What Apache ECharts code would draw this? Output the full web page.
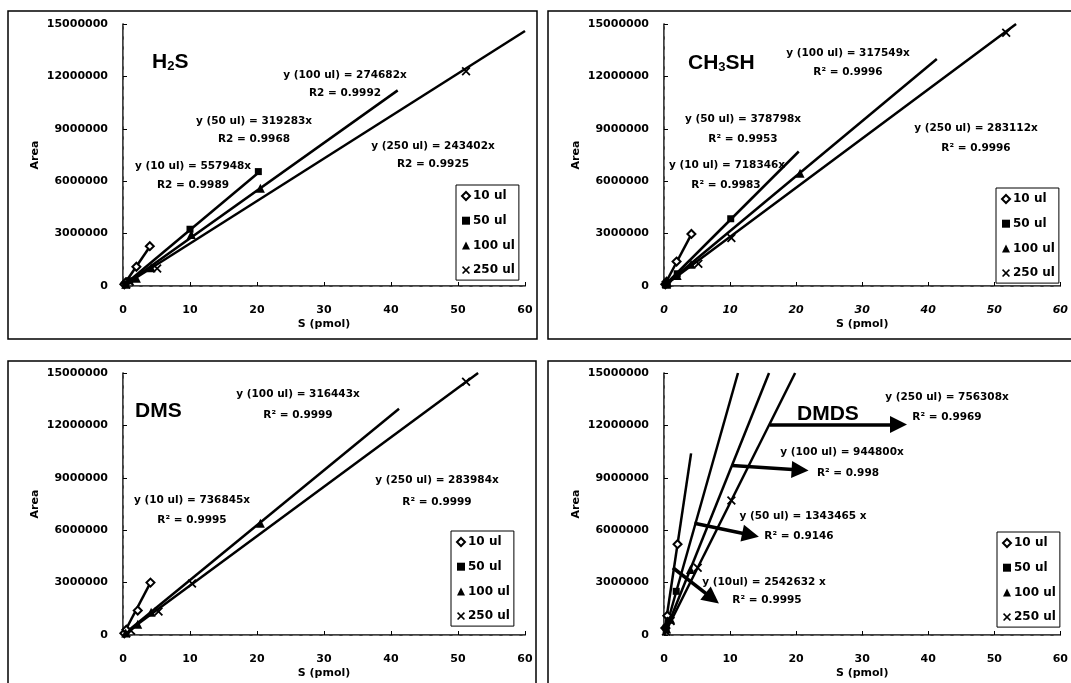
<!DOCTYPE html>
<html>
<head>
<meta charset="utf-8">
<script src="https://cdn.jsdelivr.net/npm/echarts@6/dist/echarts.min.js"></script>
<style>
html,body{margin:0;padding:0;background:#fff;}
#chart{width:1071px;height:683px;}
</style>
</head>
<body>
<div id="chart"></div>
<script>
// ---------------- DATA ----------------
const legendNames = ['10 ul', '50 ul', '100 ul', '250 ul'];
const xTicks = [0, 10, 20, 30, 40, 50, 60];
const yTicks = [0, 3000000, 6000000, 9000000, 12000000, 15000000];
const panelTitles = ['H2S', 'CH3SH', 'DMS', 'DMDS'];

// H2S measured points
const h2s10 = [[0.2, 100000], [0.4, 200000], [2.0, 1100000], [4.0, 2280000]];
const h2s50 = [[0.4, 100000], [1.0, 300000], [10.0, 3250000], [20.2, 6550000]];
const h2s100 = [[0.4, 100000], [2.0, 450000], [4.2, 1050000], [10.2, 2950000], [20.5, 5600000]];
const h2s250 = [[0.5, 80000], [1.0, 250000], [5.1, 1000000], [51.2, 12300000]];
// H2S trend lines (end points)
const h2sFit10 = [[0, 0], [4.1, 2300000]];
const h2sFit50 = [[0, 0], [20.2, 6480000]];
const h2sFit100 = [[0, 0], [41.0, 11200000]];
const h2sFit250 = [[0, 0], [60.0, 14600000]];

// CH3SH
const ch10 = [[0.2, 100000], [0.4, 250000], [1.9, 1400000], [4.15, 2980000]];
const ch50 = [[0.2, 80000], [0.5, 200000], [2.0, 700000], [10.1, 3850000]];
const ch100 = [[0.4, 100000], [2.0, 600000], [4.1, 1250000], [20.6, 6450000]];
const ch250 = [[0.5, 150000], [5.2, 1270000], [10.2, 2750000], [51.8, 14500000]];
const chFit10 = [[0, 0], [4.2, 3000000]];
const chFit50 = [[0, 0], [20.4, 7700000]];
const chFit100 = [[0, 0], [41.3, 13000000]];
const chFit250 = [[0, 0], [53.3, 15000000]];

// DMS
const dms10 = [[0.2, 100000], [0.5, 300000], [2.2, 1400000], [4.1, 3000000]];
const dms50 = [];
const dms100 = [[0.4, 120000], [2.2, 620000], [4.2, 1300000], [20.5, 6400000]];
const dms250 = [[0.5, 100000], [1.2, 250000], [5.3, 1350000], [10.3, 2950000], [51.2, 14500000]];
const dmsFit10 = [[0, 0], [4.1, 3000000]];
const dmsFit50 = [];
const dmsFit100 = [[0, 0], [41.2, 12950000]];
const dmsFit250 = [[0, 0], [53.0, 15000000]];

// DMDS
const dmds10 = [[0.2, 400000], [0.5, 1100000], [2.05, 5200000]];
const dmds50 = [[0.3, 400000], [1.85, 2500000]];
const dmds100 = [[0.4, 350000], [1.0, 900000], [4.0, 3750000]];
const dmds250 = [[0.3, 200000], [1.0, 800000], [5.1, 3850000], [10.2, 7700000]];
const dmdsFit10 = [[0, 0], [4.1, 10400000]];
const dmdsFit50 = [[0, 0], [11.2, 15000000]];
const dmdsFit100 = [[0, 0], [15.9, 15000000]];
const dmdsFit250 = [[0, 0], [19.85, 15000000]];
// DMDS annotation arrows: [start, tip]
const dmdsArrows = [
  [[16.0, 12050000], [35.5, 12050000]],
  [[10.3, 9700000], [20.6, 9450000]],
  [[4.6, 6400000], [13.1, 5730000]],
  [[1.35, 3850000], [7.3, 2100000]]
];

// equation labels
const h2sEq = ['y (100 ul) = 274682x', 'R2 = 0.9992', 'y (50 ul) = 319283x', 'R2 = 0.9968',
  'y (10 ul) = 557948x', 'R2 = 0.9989', 'y (250 ul) = 243402x', 'R2 = 0.9925'];
const chEq = ['y (100 ul) = 317549x', 'R\u00b2 = 0.9996', 'y (50 ul) = 378798x', 'R\u00b2 = 0.9953',
  'y (10 ul) = 718346x', 'R\u00b2 = 0.9983', 'y (250 ul) = 283112x', 'R\u00b2 = 0.9996'];
const dmsEq = ['y (100 ul) = 316443x', 'R\u00b2 = 0.9999', 'y (10 ul) = 736845x', 'R\u00b2 = 0.9995',
  'y (250 ul) = 283984x', 'R\u00b2 = 0.9999'];
const dmdsEq = ['y (250 ul) = 756308x', 'R\u00b2 = 0.9969', 'y (100 ul) = 944800x', 'R\u00b2 = 0.998',
  'y (50 ul) = 1343465 x', 'R\u00b2 = 0.9146', 'y (10ul) = 2542632 x', 'R\u00b2 = 0.9995'];

// ---------------- LAYOUT / STYLE ----------------
const FONT = 'DejaVu Sans';
const TFONT = 'Liberation Sans';
const grids = [
  {left: 123, top: 24, width: 402, height: 262},
  {left: 664, top: 24, width: 402, height: 262},
  {left: 123, top: 373, width: 402, height: 262},
  {left: 664, top: 373, width: 402, height: 262}
];
const frames = [[8, 11, 529, 328], [548, 11, 530, 328], [8, 361, 528, 330], [548, 361, 530, 330]];
const eqPos = [
  [[345, 75], [345, 93], [254, 121], [254, 139], [193, 166], [193, 185], [433, 146], [433, 164]],
  [[848, 53], [848, 72], [743, 119], [743, 139], [727, 165], [726, 185], [976, 128], [976, 148]],
  [[298, 394], [298, 415], [192, 500], [192, 520], [437, 480], [437, 502]],
  [[947, 397], [947, 417], [842, 452], [848, 473], [803, 516], [799, 536], [764, 582], [767, 600]]
];
const eqTexts = [h2sEq, chEq, dmsEq, dmdsEq];
const titlePos = [[152, 50], [688, 51], [135, 399], [797, 402]];
const titleRich = [
  '{b|H}{s|2}{b|S}', '{b|CH}{s|3}{b|SH}', '{b|DMS}', '{b|DMDS}'
];
const legendPos = [[456, 185], [996, 188], [451, 531], [997, 532]];

const pointSets = [
  [h2s10, h2s50, h2s100, h2s250],
  [ch10, ch50, ch100, ch250],
  [dms10, dms50, dms100, dms250],
  [dmds10, dmds50, dmds100, dmds250]
];
const fitSets = [
  [h2sFit10, h2sFit50, h2sFit100, h2sFit250],
  [chFit10, chFit50, chFit100, chFit250],
  [dmsFit10, dmsFit50, dmsFit100, dmsFit250],
  [dmdsFit10, dmdsFit50, dmdsFit100, dmdsFit250]
];
const XPATH = 'path://M0,1.4 L1.4,0 L5,3.6 L8.6,0 L10,1.4 L6.4,5 L10,8.6 L8.6,10 L5,6.4 L1.4,10 L0,8.6 L3.6,5 Z';
const symbols = ['emptyDiamond', 'rect', 'triangle', XPATH];
const symSizes = [8, 7, 9, 9];

const bold = {fontFamily: FONT, fontWeight: 'bold', color: '#000'};

const xAxes = [], yAxes = [], series = [], legends = [], titles = [];
grids.forEach((g, i) => {
  xAxes.push({
    type: 'value', gridIndex: i, min: xTicks[0], max: xTicks[xTicks.length - 1], interval: 10,
    name: 'S (pmol)', nameLocation: 'middle', nameGap: 33,
    nameTextStyle: Object.assign({fontSize: 11}, bold),
    axisLine: {lineStyle: {color: '#000', width: 1.5}},
    axisTick: {inside: true, length: 4, lineStyle: {color: '#000'}},
    axisLabel: Object.assign({margin: 19, fontSize: 11, fontStyle: i === 1 ? 'italic' : 'normal'}, bold),
    splitLine: {show: false}
  });
  yAxes.push({
    type: 'value', gridIndex: i, min: yTicks[0], max: yTicks[yTicks.length - 1], interval: 3000000,
    name: 'Area', nameLocation: 'middle', nameGap: 82,
    nameTextStyle: Object.assign({fontSize: 11}, bold),
    axisLine: {lineStyle: {color: '#000', width: 1.5}},
    axisTick: {inside: true, length: 4, lineStyle: {color: '#000'}},
    axisLabel: Object.assign({margin: 15, fontSize: 11, formatter: v => String(v)}, bold),
    splitLine: {show: false}
  });
});
// dashed top/right plot borders
grids.forEach((g, i) => {
  xAxes.push({
    type: 'value', gridIndex: i, position: 'top', min: 0, max: 60,
    axisLine: {show: true, lineStyle: {color: '#777', width: 1, type: [6, 4]}},
    axisTick: {show: false}, axisLabel: {show: false}, splitLine: {show: false}
  });
  yAxes.push({
    type: 'value', gridIndex: i, position: 'right', min: 0, max: 15000000,
    axisLine: {show: true, lineStyle: {color: '#777', width: 1, type: [6, 4]}},
    axisTick: {show: false}, axisLabel: {show: false}, splitLine: {show: false}
  });
});

grids.forEach((g, i) => {
  legendNames.forEach((nm, k) => {
    series.push({
      name: 'fit ' + nm + ' ' + i, type: 'line', xAxisIndex: i, yAxisIndex: i,
      data: fitSets[i][k], showSymbol: false, symbol: 'none', silent: true, z: 2,
      lineStyle: {color: '#000', width: 2.5}, animation: false
    });
  });
  legendNames.forEach((nm, k) => {
    series.push({
      name: nm, type: 'scatter', xAxisIndex: i, yAxisIndex: i,
      data: pointSets[i][k], symbol: symbols[k], symbolSize: symSizes[k], z: 3,
      itemStyle: {color: '#000', borderColor: '#000', borderWidth: k === 0 ? 2 : 0, opacity: 1},
      animation: false
    });
  });
  legends.push({
    orient: 'vertical', left: legendPos[i][0], top: legendPos[i][1],
    data: legendNames, selectedMode: false,
    borderColor: '#000', borderWidth: 1, padding: [4, 4, 3, 5],
    itemWidth: 8, itemHeight: 8, itemGap: 10.7,
    textStyle: Object.assign({fontSize: 12, lineHeight: 14, padding: [0, 0, 0, -2]}, bold)
  });
  titles.push({
    text: titleRich[i], left: titlePos[i][0], top: titlePos[i][1], padding: 0,
    textStyle: {
      rich: {
        b: {fontFamily: TFONT, fontWeight: 'bold', fontSize: 21, color: '#000', lineHeight: 24},
        s: {fontFamily: TFONT, fontWeight: 'bold', fontSize: 13, color: '#000', lineHeight: 24, padding: [9, 0, 0, 0]}
      }
    }
  });
});

// DMDS arrows
series.push({
  name: 'arrows', type: 'line', xAxisIndex: 3, yAxisIndex: 3, data: [], silent: true,
  markLine: {
    silent: true, symbol: ['none', 'triangle'], symbolSize: 17, animation: false,
    label: {show: false},
    lineStyle: {color: '#000', width: 3.5, type: 'solid'},
    emphasis: {disabled: true},
    data: dmdsArrows.map(a => [{coord: a[0]}, {coord: a[1]}])
  }
});

const graphics = [];
frames.forEach(f => {
  graphics.push({type: 'rect', shape: {x: f[0], y: f[1], width: f[2], height: f[3]},
    style: {fill: 'none', stroke: '#000', lineWidth: 1.5}, silent: true, z: -1});
});
eqTexts.forEach((arr, i) => {
  arr.forEach((t, j) => {
    graphics.push({type: 'text', x: eqPos[i][j][0], y: eqPos[i][j][1], silent: true, z: 10,
      style: {text: t, align: 'center', verticalAlign: 'middle', textAlign: 'center', textVerticalAlign: 'middle',
        fontFamily: FONT, fontWeight: 'bold', fontSize: 10.5, fill: '#000'}});
  });
});

const chart = echarts.init(document.getElementById('chart'), null, {renderer: 'canvas'});
chart.setOption({
  backgroundColor: '#fff',
  animation: false,
  title: titles,
  legend: legends,
  grid: grids,
  xAxis: xAxes,
  yAxis: yAxes,
  series: series,
  graphic: graphics
});
</script>
</body>
</html>
